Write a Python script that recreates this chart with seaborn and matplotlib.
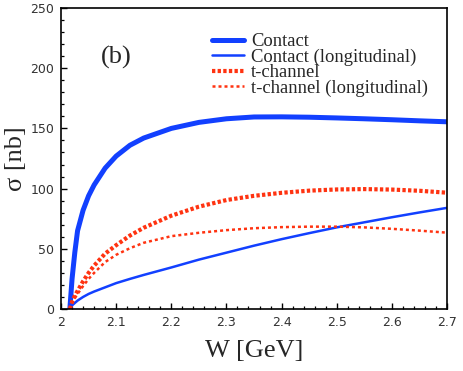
import numpy as np
import pandas as pd
import matplotlib
matplotlib.use("Agg")
import matplotlib.pyplot as plt
import seaborn as sns
from matplotlib.ticker import MultipleLocator, FuncFormatter

# valores (W en GeV, sigma en nb)
W = [2.016, 2.02, 2.025, 2.03, 2.04, 2.05, 2.06, 2.08, 2.1, 2.125, 2.15,
     2.2, 2.25, 2.3, 2.35, 2.4, 2.45, 2.5, 2.55, 2.6, 2.65, 2.7]
contact = [0, 25, 47, 65, 82, 94, 103, 117, 127, 136, 142,
           150, 155, 158, 159.5, 159.6, 159.3, 158.7, 158, 157.2, 156.3, 155.5]
contact_long = [0, 3, 5, 7, 10, 12.5, 14.5, 18, 21.5, 25, 28.3,
                34.5, 41, 46.8, 52.6, 58, 63, 67.8, 72, 76.2, 80.2, 84]
tchan = [0, 6, 11, 15, 23, 30, 36, 46, 53, 61, 67.5,
         77.5, 85, 90.5, 94, 96.5, 98.3, 99.3, 99.6, 99.2, 98.2, 96.6]
tchan_long = [0, 5, 9, 12.5, 19, 25, 30, 39, 45, 50.5, 55,
              60.5, 63.3, 65.5, 67.1, 68, 68.4, 68.4, 67.8, 66.6, 65.1, 63.4]

labels = ["Contact", "Contact (longitudinal)", "t-channel", "t-channel (longitudinal)"]

sns.set_style("white")
plt.rcParams['font.family'] = ['Liberation Serif', 'DejaVu Serif']

blue = '#1240FF'
red = '#FF3311'

fig = plt.figure(figsize=(4.63, 3.71), dpi=100)
ax = fig.add_axes([0.1318, 0.1671, 0.8336, 0.8113])

sns.lineplot(x=W, y=contact, ax=ax, color=blue, linewidth=3.6, label=labels[0])
sns.lineplot(x=W, y=contact_long, ax=ax, color=blue, linewidth=1.8, label=labels[1])
sns.lineplot(x=W, y=tchan, ax=ax, color=red, linewidth=3.0,
             linestyle=(0, (0.8, 0.55)), label=labels[2])
sns.lineplot(x=W, y=tchan_long, ax=ax, color=red, linewidth=1.8,
             linestyle=(0, (1.2, 1.2)), label=labels[3])

ax.set_xlim(2.0, 2.7)
ax.set_ylim(0, 250)
ax.xaxis.set_major_locator(MultipleLocator(0.1))
ax.xaxis.set_minor_locator(MultipleLocator(0.02))
ax.yaxis.set_major_locator(MultipleLocator(50))
ax.yaxis.set_minor_locator(MultipleLocator(10))
ax.xaxis.set_major_formatter(FuncFormatter(lambda v, p: f"{v:g}"))

ax.tick_params(which='both', direction='in', top=False, right=False,
               bottom=True, left=True, colors='black')
ax.tick_params(which='major', length=4.3, width=1.0, pad=5)
ax.tick_params(which='minor', length=2.2, width=0.9)
for lab in ax.get_xticklabels() + ax.get_yticklabels():
    lab.set_family(['DejaVu Sans'])
    lab.set_fontsize(9)
    lab.set_color('#333333')

for s in ax.spines.values():
    s.set_color('black')
    s.set_linewidth(1.2)

ax.set_xlabel("W [GeV]", fontsize=19, labelpad=8)
ax.set_ylabel("σ [nb]", fontsize=19, labelpad=2)

ax.text(2.101, 209, "(b)", fontsize=19, ha='center', va='center')

ax.legend(loc='upper left', bbox_to_anchor=(0.39, 0.917), frameon=False,
          fontsize=13.4, labelspacing=-0.09, handlelength=1.77,
          handletextpad=0.36, borderpad=0, borderaxespad=0)

fig.savefig("out.png", dpi=100)
